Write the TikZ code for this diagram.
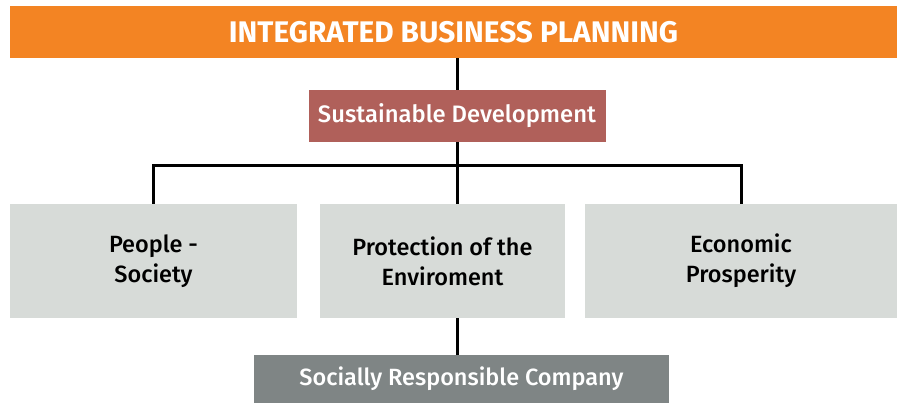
\documentclass[tikz,border=0pt]{standalone}
\usepackage{fontspec}
\setmainfont{Fira Sans}
\newfontfamily\medfont{Fira Sans Medium}
\definecolor{ibporange}{HTML}{F38423}
\definecolor{sdbrown}{HTML}{B0605A}
\definecolor{pillar}{HTML}{D7DBD8}
\definecolor{csrgray}{HTML}{7F8585}
\begin{document}
\begin{tikzpicture}[x=1pt,y=-1pt,
  banner/.style={fill=ibporange, text=white, font=\fontsize{29.8}{32}\selectfont\bfseries, inner sep=0pt, minimum width=887pt, minimum height=52pt},
  sdbox/.style={fill=sdbrown, text=white, font=\fontsize{23.8}{28}\selectfont\medfont, inner sep=0pt, minimum width=297pt, minimum height=52pt},
  pillarbox/.style={fill=pillar, text=black, font=\fontsize{23.5}{30}\selectfont\medfont, align=center, inner sep=0pt, minimum height=114pt},
  csrbox/.style={fill=csrgray, text=white, font=\fontsize{23.5}{28}\selectfont\medfont, inner sep=0pt, minimum width=415pt, minimum height=48pt},
  link/.style={draw=black, line width=3pt}]
\useasboundingbox (0,0) rectangle (897,403);
\node[banner] (ibp) at (453.5,32) {INTEGRATED BUSINESS PLANNING};
\node[sdbox] (sd) at (457,116) {Sustainable Development};
\node[pillarbox, minimum width=287pt] (people) at (153.5,261) {People -\\Society};
\node[pillarbox, minimum width=245pt] (prot) at (442.5,261) {Protection of the\\Enviroment};
\node[pillarbox, minimum width=312pt] (econ) at (741,261) {Economic\\Prosperity};
\node[csrbox] (csr) at (461.5,379) {Socially Responsible Company};
\coordinate (bus) at (457,166);
\draw[link] (ibp.south -| sd.north) -- (sd.north);
\draw[link] (sd.south) -- (bus);
\draw[link] (people.north) |- (bus) -| (econ.north);
\draw[link] (bus) -- (bus |- prot.north);
\draw[link] (prot.south -| bus) -- (csr.north -| bus);
\end{tikzpicture}
\end{document}
